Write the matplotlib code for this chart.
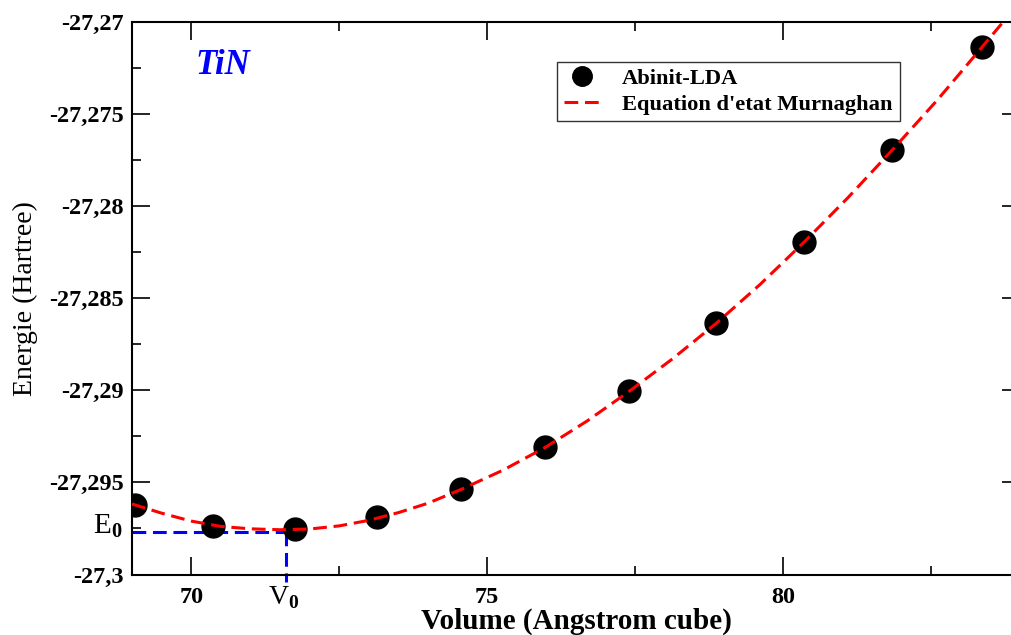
import matplotlib.pyplot as plt
from matplotlib.ticker import FixedLocator, MultipleLocator

plt.rcParams['font.family'] = 'Liberation Serif'
plt.rcParams['mathtext.fontset'] = 'custom'
plt.rcParams['mathtext.rm'] = 'Liberation Serif'
plt.rcParams['mathtext.bf'] = 'Liberation Serif:bold'

# Abinit-LDA points
vol = [69.05, 70.37, 71.76, 73.14, 74.56, 75.98, 77.40, 78.87, 80.35, 81.84, 83.36]
ener = [-27.29620, -27.29734, -27.29755, -27.29690, -27.29538, -27.29310,
        -27.29005, -27.28636, -27.28196, -27.27696, -27.27136]

# Murnaghan fit curve
fit_v = [69.0, 69.5, 70.0, 70.5, 71.0, 71.5, 72.0, 72.5, 73.0, 73.5, 74.0, 74.56,
         75.27, 75.98, 76.69, 77.40, 78.13, 78.87, 79.61, 80.35, 81.09, 81.84,
         82.60, 83.36, 83.8, 84.0]
fit_e = [-27.29617, -27.29667, -27.29710, -27.29739, -27.29752, -27.29757,
         -27.29753, -27.29736, -27.29706, -27.29664, -27.29613, -27.29538,
         -27.29433, -27.29310, -27.29166, -27.29005, -27.28829, -27.28636,
         -27.28425, -27.28196, -27.27955, -27.27696, -27.27425, -27.27136,
         -27.26967, -27.26890]

v0 = 71.6
e0 = -27.29769

yticks = [-27.3, -27.295, -27.29, -27.285, -27.28, -27.275, -27.27]
ylabels = ['-27,3', '-27,295', '-27,29', '-27,285', '-27,28', '-27,275', '-27,27']
xticks = [70, 75, 80]

fig = plt.figure(figsize=(10.11, 6.35), dpi=100)
ax = fig.add_axes([132 / 1011, 60.5 / 635, 888 / 1011, 552.5 / 635])

dash = (0, (4.5, 2.2))
ax.plot(vol, ener, 'o', color='black', markersize=16.5, label='Abinit-LDA', zorder=3)
ax.plot(fit_v, fit_e, color='red', lw=2.2, linestyle=dash,
        label="Equation d'etat Murnaghan", zorder=4)

ax.plot([69, v0], [e0, e0], color='blue', lw=2.2, linestyle=dash, zorder=2)
ax.plot([v0, v0], [e0, -27.3004], color='blue', lw=2.2, linestyle=dash,
        clip_on=False, zorder=2)

ax.set_xlim(69, 84)
ax.set_ylim(-27.3, -27.27)
ax.xaxis.set_major_locator(FixedLocator(xticks))
ax.xaxis.set_minor_locator(MultipleLocator(2.5))
ax.yaxis.set_major_locator(FixedLocator(yticks))
ax.set_yticklabels(ylabels)
ax.yaxis.set_minor_locator(MultipleLocator(0.0025))
ax.tick_params(which='both', direction='in', top=True, right=True, width=1.2,
               labelsize=17.5, pad=6)
ax.tick_params(axis='x', which='both', pad=9)
ax.tick_params(which='major', length=13)
ax.tick_params(which='minor', length=6.5)
for lab in ax.get_xticklabels() + ax.get_yticklabels():
    lab.set_fontweight('bold')
for s in ax.spines.values():
    s.set_linewidth(1.5)

ax.set_xlabel('Volume (Angstrom cube)', fontsize=21, fontweight='bold', labelpad=0)
ax.set_ylabel('Energie (Hartree)', fontsize=20, labelpad=8)

fig.text(195 / 1011, 1 - 66 / 635, 'TiN', color='blue', fontsize=25,
         fontweight='bold', fontstyle='italic', va='center', ha='left')
fig.text(108 / 1011, 1 - 526 / 635, r'E$_\mathbf{0}$', fontsize=21, ha='center', va='center')
fig.text(284 / 1011, 1 - 598 / 635, r'V$_\mathbf{0}$', fontsize=20, ha='center', va='center')

leg = ax.legend(loc='upper left', bbox_to_anchor=((557 - 132) / 888, (575 - 62) / 552.5),
                frameon=True, fancybox=False, edgecolor='black',
                borderpad=0.3, handlelength=1.6, handletextpad=1.0,
                labelspacing=0.22, borderaxespad=0, markerscale=0.85,
                prop={'family': 'Liberation Serif', 'weight': 'bold', 'size': 16.2})
leg.get_frame().set_linewidth(1.0)

plt.savefig('out.png', dpi=100)
